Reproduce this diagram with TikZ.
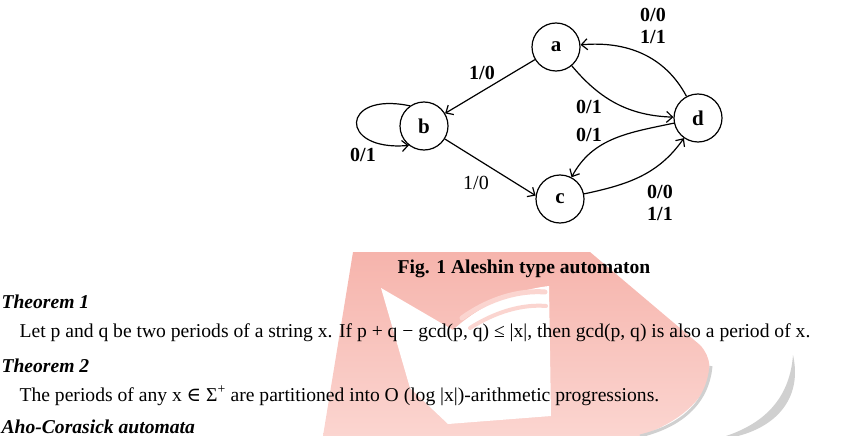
\documentclass[tikz,border=0pt]{standalone}
\usepackage{fontspec}
\setmainfont{Liberation Serif}
\newfontfamily\symfont{DejaVu Serif}
\usetikzlibrary{arrows.meta}
\definecolor{wmpink}{RGB}{246,180,172}
\definecolor{wmpale}{RGB}{251,213,208}
\definecolor{wmgrey}{RGB}{208,208,208}

\begin{document}
\begin{tikzpicture}[x=1pt,y=-1pt,line width=1.2pt,>={Straight Barb[length=6pt,width=11pt]}]
	\useasboundingbox (0,0) rectangle (841,436);
	\clip (0,0) rectangle (841,436);
	% watermark behind the text
	\shade[top color=wmpink,bottom color=wmpale] (353,252) -- (590,252) -- (700,345)
		.. controls (722,368) and (708,412) .. (640,436) -- (323,436) -- cycle;
	\fill[white] (381,288) -- (453,330) .. controls (480,305) and (515,290) .. (549,286)
		-- (551,416) -- (448,424) -- (410,388) -- cycle;
	\draw[wmpale,line width=5pt,line cap=round] (462,318) .. controls (490,298) and (520,290) .. (545,292);
	\draw[wmpale,line width=4pt,line cap=round] (470,328) .. controls (495,312) and (522,304) .. (546,306);
	\draw[wmgrey,line width=3pt] (711,366) .. controls (708,400) and (685,425) .. (640,436);
	\fill[wmgrey] (793,355) .. controls (802,395) and (780,425) .. (738,436) -- (726,436)
		.. controls (768,422) and (790,395) .. (793,355) -- cycle;
	% the automaton
	\begin{scope}[every node/.style={circle,draw,minimum size=48pt,inner sep=0pt,font=\bfseries\fontsize{21}{24}\selectfont}]
	\node (a) at (556,47) {a};
	\node (b) at (424,126) {b};
	\node (c) at (560,199) {c};
	\node (d) at (698,118) {d};
	\end{scope}
	\draw[->] (a) -- (b);
	\draw[->] (b) -- (c.172);
	\draw[->] (a) to[out=-50,in=178] (d);
	\draw[->] (d) to[out=118,in=5] (a);
	\draw[->] (d) to[out=192,in=62] (c);
	\draw[->] (c) to[out=12,in=235] (d);
	\draw[->] (b.125) to[out=168,in=185,looseness=4.6] (b.232);
	\begin{scope}[every node/.style={font=\bfseries\fontsize{20}{22}\selectfont,align=center}]
	\node (ab) at (482,73) {1/0};
	\node (ad) at (589,107) {0/1};
	\node (da) at (653,26) {0/0\\1/1};
	\node (dc) at (589,135) {0/1};
	\node (cd) at (660,203) {0/0\\1/1};
	\node (bb) at (363,155) {0/1};
	\node[font=\fontsize{20}{22}\selectfont] (bc) at (476,183) {1/0};
	\end{scope}
	% caption and the text below it
	\node[font=\bfseries\fontsize{19.6}{22}\selectfont,anchor=base] (cap) at (524,273) {Fig. 1 Aleshin type automaton};
	\begin{scope}[every node/.style={anchor=base west,inner sep=0pt,font=\fontsize{19.6}{22}\selectfont}]
	\node[font=\bfseries\itshape\fontsize{19.6}{22}\selectfont] (thm1) at (1,308) {Theorem 1};
	\node (txt1) at (19,337) {Let p and q be two periods of a string x. If p + q − gcd(p, q) ≤ |x|, then gcd(p, q) is also a period of x.};
	\node[font=\bfseries\itshape\fontsize{19.6}{22}\selectfont] (thm2) at (1,372) {Theorem 2};
	\node (txt2) at (19,401) {The periods of any x {\symfont ∈} Σ\textsuperscript{+} are partitioned into O (log |x|)-arithmetic progressions.};
	\node[font=\bfseries\itshape\fontsize{19.6}{22}\selectfont] (aho) at (1,433) {Aho-Corasick automata};
	\end{scope}
\end{tikzpicture}
\end{document}
